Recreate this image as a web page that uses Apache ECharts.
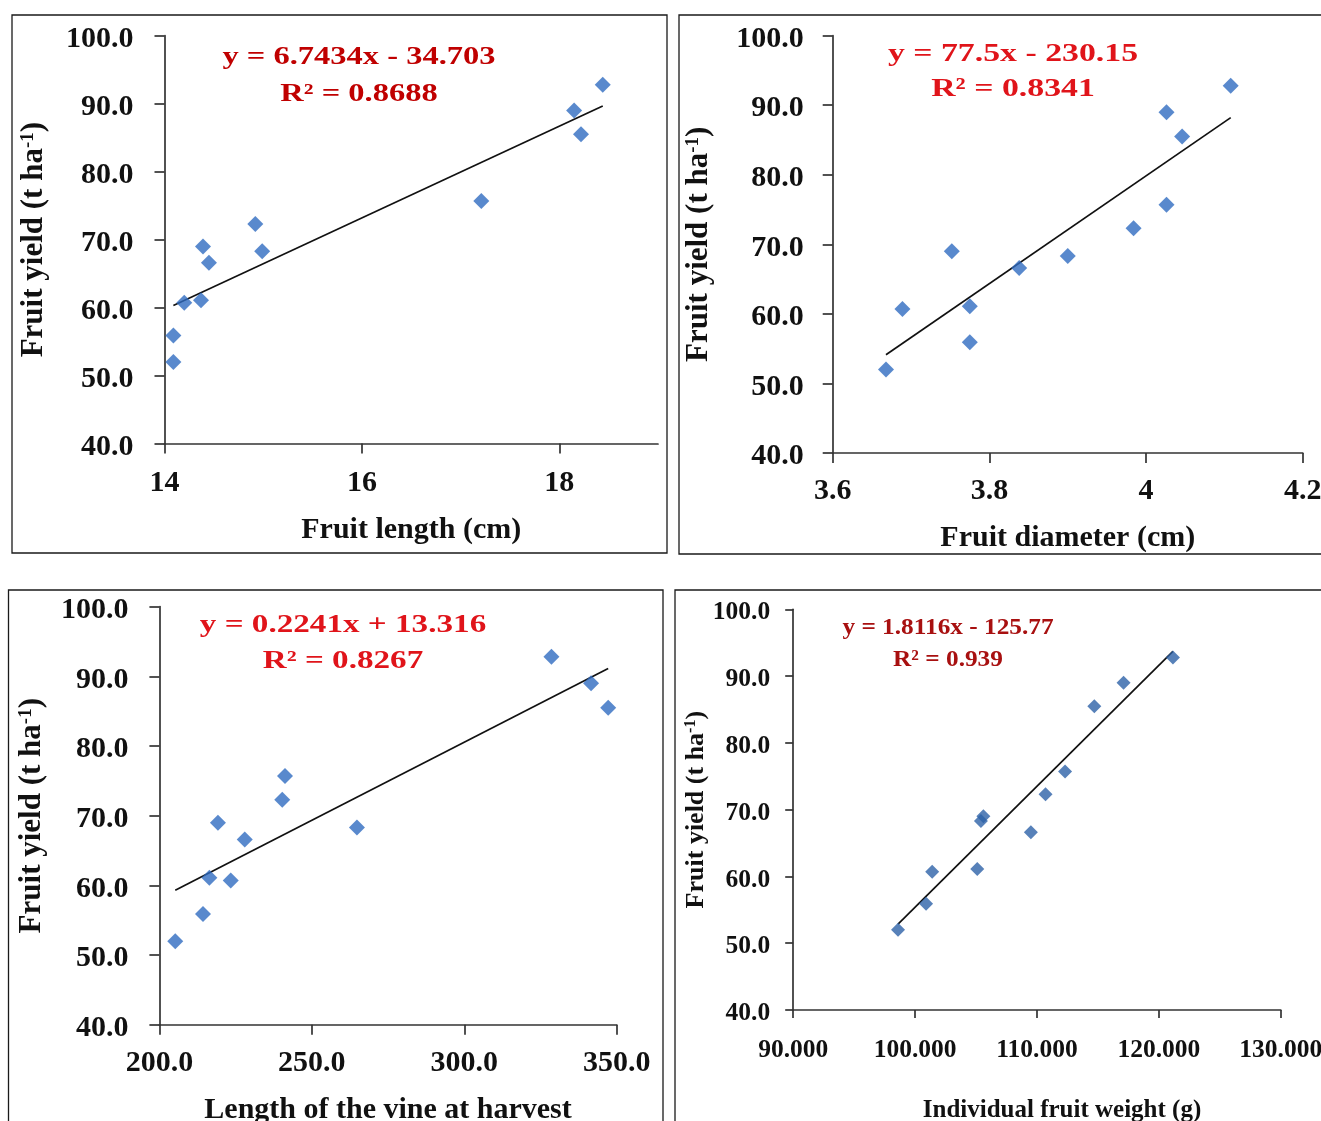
<!DOCTYPE html>
<html>
<head>
<meta charset="utf-8">
<script src="https://cdn.jsdelivr.net/npm/echarts@6/dist/echarts.min.js"></script>
<style>
  html, body { margin: 0; padding: 0; background: #fff; }
  #chart { width: 1321px; height: 1121px; }
</style>
</head>
<body>
<div id="chart"></div>
<script>
// Fruit yield (t/ha) of the twelve entries, shared by all four panels
const fruitYield = [92.8, 89.0, 85.5, 75.7, 72.3, 69.0, 68.3, 66.6, 61.1, 60.7, 55.9, 52.0];

// Explanatory traits, in the same entry order as fruitYield
const fruitLength   = [18.44, 18.15, 18.22, 17.21, 14.92, 14.39, 14.99, 14.45, 14.37, 14.20, 14.09, 14.09];
const fruitDiameter = [4.108, 4.026, 4.046, 4.026, 3.984, 3.752, 3.900, 3.838, 3.775, 3.689, 3.775, 3.668];
const vineLength    = [328.6, 341.6, 347.2, 241.2, 240.3, 219.2, 264.8, 228.0, 216.4, 223.4, 214.3, 205.2];
const fruitWeight   = [121.15, 117.1, 114.7, 112.3, 110.7, 105.6, 105.4, 109.5, 105.1, 101.4, 100.9, 98.6];

// Linear fits reported on each panel
const fitSlope     = [6.7434, 77.5, 0.2241, 1.8116];
const fitIntercept = [-34.703, -230.15, 13.316, -125.77];
const fitR2        = [0.8688, 0.8341, 0.8267, 0.939];

// Axis titles and ticks
const xTitles = ['Fruit length (cm)', 'Fruit diameter (cm)', 'Length of the vine at harvest', 'Individual fruit weight (g)'];
const yTitle = 'Fruit yield (t ha';
const xTicksLength = [14, 16, 18];

const SERIF = '"Liberation Serif", "Times New Roman", serif';
const AXIS_COLOR = '#333333';

const panels = [
  { x: fruitLength,   grid: { left: 164.5, top: 35.7,  width: 493.5, height: 407.9 },
    xMin: 14, xMax: 19, xInt: 2, xFmt: v => String(Math.round(v)), xCustom: xTicksLength,
    lab: 30, labMargin: 25, yLabMargin: 31, tickLen: 10,
    xName: 30, xNameGap: 72, xNamePad: 0, yName: 31, yNameGap: 115,
    eq: { x: 359, y1: 58, y2: 95, size: 25, sx: 1.3, color: '#c00000' },
    dot: '#2f6cc0', dotSize: 16 },
  { x: fruitDiameter, grid: { left: 832.7, top: 35.7,  width: 470.1, height: 417.2 },
    xMin: 3.6, xMax: 4.2, xInt: 0.2, xFmt: v => String(parseFloat(v.toFixed(2))), xCustom: null,
    lab: 30, labMargin: 23, yLabMargin: 29, tickLen: 10,
    xName: 30, xNameGap: 70, xNamePad: 0, yName: 31, yNameGap: 118,
    eq: { x: 1013, y1: 54, y2: 89, size: 26, sx: 1.3, color: '#e0141a' },
    dot: '#2f6cc0', dotSize: 16 },
  { x: vineLength,    grid: { left: 159.4, top: 606.6, width: 457.3, height: 418.2 },
    xMin: 200, xMax: 350, xInt: 50, xFmt: v => v.toFixed(1), xCustom: null,
    lab: 30, labMargin: 23, yLabMargin: 31, tickLen: 10,
    xName: 30, xNameGap: 70, xNamePad: 0, yName: 31, yNameGap: 112,
    eq: { x: 343, y1: 625, y2: 661, size: 25.5, sx: 1.3, color: '#e0141a' },
    dot: '#2f6cc0', dotSize: 16 },
  { x: fruitWeight,   grid: { left: 793.2, top: 609.3, width: 487.6, height: 400.7 },
    xMin: 90, xMax: 130, xInt: 10, xFmt: v => v.toFixed(3), xCustom: null,
    lab: 25.5, labMargin: 27, yLabMargin: 23, tickLen: 8,
    xName: 25, xNameGap: 88, xNamePad: 50, yName: 26, yNameGap: 81,
    eq: { x: 948, y1: 628, y2: 660, size: 23, sx: 1.1, color: '#a81010' },
    dot: '#2d62a8', dotSize: 14 }
];

function fmtEq(i) {
  const b = fitIntercept[i];
  return 'y = ' + fitSlope[i] + 'x ' + (b < 0 ? '-' : '+') + ' ' + Math.abs(b);
}

const grids = [], xAxes = [], yAxes = [], series = [], graphics = [];

// Panel frames
const frames = [
  { x: 12, y: 15, w: 655, h: 538 },
  { x: 679, y: 15, w: 700, h: 539 },
  { x: 8.5, y: 590, w: 654.5, h: 600 },
  { x: 675, y: 590, w: 700, h: 600 }
];
frames.forEach(f => graphics.push({
  type: 'rect', silent: true, z: -1,
  shape: { x: f.x, y: f.y, width: f.w, height: f.h },
  style: { fill: '#fff', stroke: '#1a1a1a', lineWidth: 1.3 }
}));

panels.forEach((p, i) => {
  // fixed plot rectangles; labels may run past the canvas edge
  grids.push(Object.assign({ containLabel: false, outerBoundsMode: 'none' }, p.grid));

  const xTick = { show: true, length: p.tickLen, lineStyle: { color: AXIS_COLOR, width: 1.7 } };
  const xLab = {
    fontFamily: SERIF, fontWeight: 'bold', fontSize: p.lab, color: '#111',
    margin: p.labMargin, formatter: p.xFmt
  };
  if (p.xCustom) { xTick.customValues = p.xCustom; xLab.customValues = p.xCustom; }

  xAxes.push({
    gridIndex: i, type: 'value', min: p.xMin, max: p.xMax, interval: p.xInt,
    splitLine: { show: false },
    axisLine: { show: true, onZero: false, lineStyle: { color: AXIS_COLOR, width: 1.7 } },
    axisTick: xTick,
    axisLabel: xLab,
    name: xTitles[i], nameLocation: 'middle', nameGap: p.xNameGap,
    nameTextStyle: { fontFamily: SERIF, fontWeight: 'bold', fontSize: p.xName, color: '#111',
                     padding: [0, 0, 0, p.xNamePad] }
  });

  yAxes.push({
    gridIndex: i, type: 'value', min: 40, max: 100, interval: 10,
    splitLine: { show: false },
    axisLine: { show: true, onZero: false, lineStyle: { color: AXIS_COLOR, width: 1.7 } },
    axisTick: { show: true, length: p.tickLen, lineStyle: { color: AXIS_COLOR, width: 1.7 } },
    // a short line box hung from the tick sets the digits slightly below it
    axisLabel: { fontFamily: SERIF, fontWeight: 'bold', fontSize: p.lab, color: '#111',
                 margin: p.yLabMargin, verticalAlign: 'top', lineHeight: 7,
                 formatter: v => v.toFixed(1) },
    name: '{a|' + yTitle + '}{s|-1}{a|)}',
    nameLocation: 'middle', nameRotate: 90, nameGap: p.yNameGap,
    nameTextStyle: {
      rich: {
        a: { fontFamily: SERIF, fontWeight: 'bold', fontSize: p.yName, color: '#111' },
        s: { fontFamily: SERIF, fontWeight: 'bold', fontSize: Math.round(p.yName * 0.6), color: '#111',
             verticalAlign: 'top' }
      }
    }
  });

  const pts = p.x.map((v, k) => [v, fruitYield[k]]);
  series.push({
    type: 'scatter', xAxisIndex: i, yAxisIndex: i, data: pts,
    symbol: 'diamond', symbolSize: p.dotSize,
    itemStyle: { color: p.dot }, z: 3
  });

  // Fitted line across the observed range
  const lo = Math.min.apply(null, p.x), hi = Math.max.apply(null, p.x);
  series.push({
    type: 'line', xAxisIndex: i, yAxisIndex: i, symbol: 'none', silent: true,
    data: [[lo, fitSlope[i] * lo + fitIntercept[i]], [hi, fitSlope[i] * hi + fitIntercept[i]]],
    lineStyle: { color: '#111', width: 1.7 }, z: 2
  });

  const font = 'bold ' + p.eq.size + 'px ' + SERIF;
  [[fmtEq(i), p.eq.y1], ['R\u00b2 = ' + fitR2[i], p.eq.y2]].forEach(([t, yy]) => {
    graphics.push({
      type: 'text', x: p.eq.x, y: yy, scaleX: p.eq.sx, silent: true, z: 10,
      style: { text: t, font: font, fill: p.eq.color,
               align: 'center', verticalAlign: 'middle',
               textAlign: 'center', textVerticalAlign: 'middle' }
    });
  });
});

const chart = echarts.init(document.getElementById('chart'), null, { renderer: 'canvas' });
chart.setOption({
  backgroundColor: '#ffffff',
  animation: false,
  grid: grids,
  xAxis: xAxes,
  yAxis: yAxes,
  series: series,
  graphic: { elements: graphics }
});
</script>
</body>
</html>
